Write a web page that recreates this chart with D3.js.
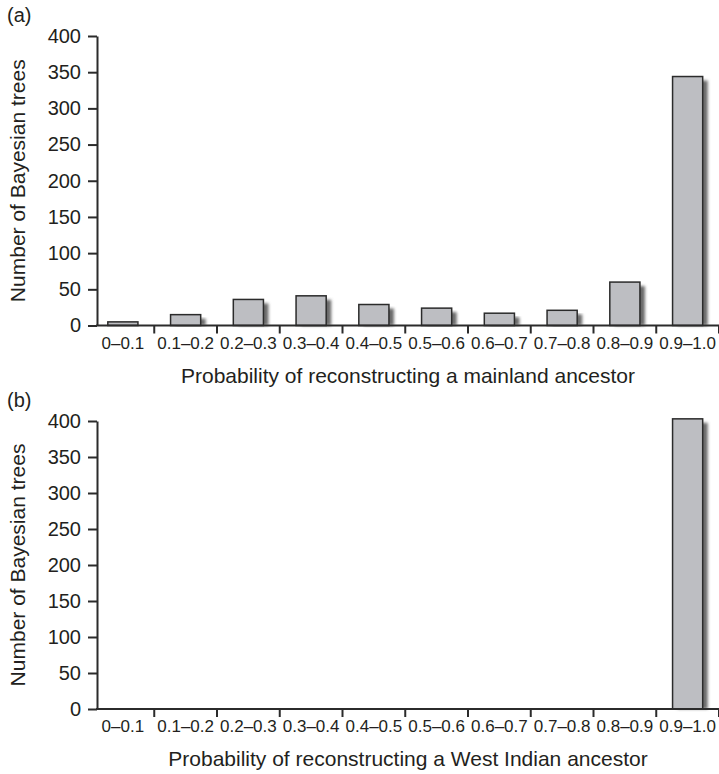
<!DOCTYPE html>
<html>
<head>
<meta charset="utf-8">
<script src="https://cdn.jsdelivr.net/npm/d3@7"></script>
<style>
  body { margin: 0; background: #fff; }
  svg text { font-family: "Liberation Sans", Arial, sans-serif; fill: #231f20; }
</style>
</head>
<body>
<svg id="chart" width="719" height="774"></svg>
<script>
// bins of the probability histogram
const categories = ['0–0.1', '0.1–0.2', '0.2–0.3', '0.3–0.4', '0.4–0.5',
                    '0.5–0.6', '0.6–0.7', '0.7–0.8', '0.8–0.9', '0.9–1.0']
// number of Bayesian trees per bin
const mainlandCounts = [5, 15, 36, 41, 29, 24, 17, 21, 60, 344]
const westIndianCounts = [0, 0, 0, 0, 0, 0, 0, 0, 0, 403]
const yTickValues = [0, 50, 100, 150, 200, 250, 300, 350, 400]

const svg = d3.select('#chart')

// soft drop shadow behind every bar
svg.append('defs')
    .append('filter')
    .attr('id', 'blur')
    .attr('x', '-50%').attr('y', '-10%')
    .attr('width', '200%').attr('height', '120%')
    .append('feGaussianBlur')
    .attr('stdDeviation', 1.6)

const x = d3.scaleBand()
    .domain(categories)
    .range([91.5, 719])
    .padding(0)

const barWidth = x.bandwidth() * 0.48
const axisX = 97

/**
 * Draws one histogram panel.
 */
const drawPanel = ({ letter, counts, title, top, bottom }) => {

    const g = svg.append('g')

    const y = d3.scaleLinear()
        .domain([0, 400])
        .range([bottom, top])

    // panel letter
    g.append('text')
        .attr('x', 7)
        .attr('y', top - 14)
        .style('font-size', '20px')
        .text(`(${letter})`)

    // bars
    const data = counts.map((v, i) => ({ cat: categories[i], value: v }))
        .filter(d => d.value > 0)

    const barX = d => x(d.cat) + (x.bandwidth() - barWidth) / 2

    g.selectAll('rect.shadow')
        .data(data)
        .join('rect')
        .classed('shadow', true)
        .attr('x', d => barX(d) + 5)
        .attr('y', d => y(d.value) + 4)
        .attr('width', barWidth)
        .attr('height', d => Math.max(0, bottom - y(d.value) - 4))
        .attr('fill', '#6a6a6a')
        .attr('filter', 'url(#blur)')

    g.selectAll('rect.bar')
        .data(data)
        .join('rect')
        .classed('bar', true)
        .attr('x', barX)
        .attr('y', d => y(d.value))
        .attr('width', barWidth)
        .attr('height', d => bottom - y(d.value))
        .attr('fill', '#bdbec2')
        .attr('stroke', '#2b2b2b')
        .attr('stroke-width', 1.5)

    // y axis
    const yAxis = g.append('g')
        .attr('transform', `translate(${axisX},0)`)
        .call(d3.axisLeft(y)
            .tickValues(yTickValues)
            .tickSize(9)
            .tickSizeOuter(0)
            .tickPadding(7))
    yAxis.selectAll('path, line')
        .attr('stroke', '#2b2b2b')
        .attr('stroke-width', 2)
    yAxis.selectAll('text')
        .style('font-size', '20px')
        .attr('fill', '#231f20')

    // x axis: ticks on bin edges, labels centred in bins
    g.append('line')
        .attr('x1', axisX - 1)
        .attr('x2', x.range()[1])
        .attr('y1', bottom)
        .attr('y2', bottom)
        .attr('stroke', '#2b2b2b')
        .attr('stroke-width', 2)

    g.selectAll('line.xtick')
        .data(categories)
        .join('line')
        .classed('xtick', true)
        .attr('x1', d => x(d) + x.bandwidth())
        .attr('x2', d => x(d) + x.bandwidth())
        .attr('y1', bottom)
        .attr('y2', bottom + 8)
        .attr('stroke', '#2b2b2b')
        .attr('stroke-width', 2)

    g.selectAll('text.xlabel')
        .data(categories)
        .join('text')
        .classed('xlabel', true)
        .attr('x', d => x(d) + x.bandwidth() / 2)
        .attr('y', bottom + 23)
        .attr('text-anchor', 'middle')
        .style('font-size', '17px')
        .text(d => d)

    // axis titles
    g.append('text')
        .attr('x', (axisX + x.range()[1]) / 2)
        .attr('y', bottom + 57)
        .attr('text-anchor', 'middle')
        .style('font-size', '21px')
        .text(title)

    g.append('text')
        .attr('transform', `translate(25,${(top + bottom) / 2}) rotate(-90)`)
        .attr('text-anchor', 'middle')
        .style('font-size', '21px')
        .text('Number of Bayesian trees')
}

drawPanel({
    letter: 'a',
    counts: mainlandCounts,
    title: 'Probability of reconstructing a mainland ancestor',
    top: 36,
    bottom: 325.5,
})

drawPanel({
    letter: 'b',
    counts: westIndianCounts,
    title: 'Probability of reconstructing a West Indian ancestor',
    top: 421,
    bottom: 709,
})
</script>
</body>
</html>
